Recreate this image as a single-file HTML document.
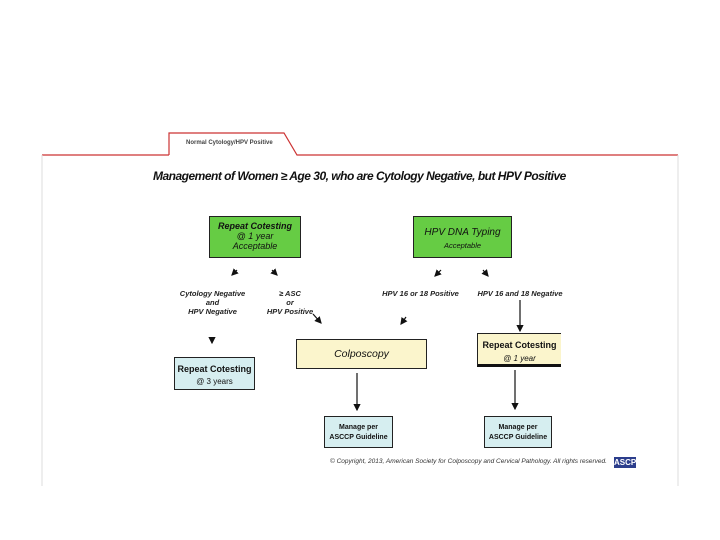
<!DOCTYPE html>
<html><head><style>
body{margin:0;width:720px;height:540px;background:#fff;position:relative;overflow:hidden;font-family:"Liberation Sans",sans-serif}
.a{position:absolute}
.box{position:absolute;box-sizing:border-box;border:1.5px solid #222;text-align:center;font-size:9px;color:#111}
.g{background:#66cc44}
.b{background:#d6eef0}
.y{background:#fbf5cc}
.t{position:absolute;font-size:7.5px;color:#222;text-align:center;font-style:italic;line-height:9px;font-weight:bold}
</style></head><body>
<svg class="a" style="left:0;top:0" width="720" height="540">
<line x1="42" y1="155" x2="169" y2="155" stroke="#c33" stroke-width="1.2"/>
<polyline points="169,155 169,133 284,133 297,155 678,155" fill="none" stroke="#c33" stroke-width="1.2"/>
<line x1="42" y1="155" x2="42" y2="486" stroke="#ddd"/>
<line x1="678" y1="155" x2="678" y2="486" stroke="#ddd"/>
<defs><marker id="m" markerWidth="6" markerHeight="6" refX="5" refY="3" orient="auto"><path d="M0,0L6,3L0,6z" fill="#111"/></marker></defs>
<g stroke="#111" stroke-width="1.2" marker-end="url(#m)">
<line x1="237" y1="270" x2="232" y2="275"/>
<line x1="272" y1="270" x2="277" y2="275"/>
<line x1="441" y1="270" x2="435" y2="276"/>
<line x1="483" y1="270" x2="488" y2="276"/>
<line x1="313" y1="314" x2="321" y2="323"/>
<line x1="406" y1="317" x2="401" y2="324"/>
<line x1="212" y1="339" x2="212" y2="343"/>
<line x1="520" y1="300" x2="520" y2="331"/>
<line x1="357" y1="373" x2="357" y2="410"/>
<line x1="515" y1="370" x2="515" y2="409"/>
</g>
</svg>
<div class="a" style="left:186px;top:140px;font-size:6px;font-weight:bold;color:#444">Normal Cytology/HPV Positive</div>
<div class="a" style="left:153px;top:169px;font-size:12px;font-weight:bold;font-style:italic;color:#111;letter-spacing:-0.5px">Management of Women ≥ Age 30, who are Cytology Negative, but HPV Positive</div>
<div class="box g" style="left:209px;top:216px;width:92px;height:42px;padding-top:4px;line-height:10px;font-style:italic"><b>Repeat Cotesting</b><br>@ 1 year<br>Acceptable</div>
<div class="box g" style="left:413px;top:216px;width:99px;height:42px;padding-top:9px;line-height:12px;font-style:italic"><span style="font-size:10px">HPV DNA Typing</span><br><span style="font-size:7.5px">Acceptable</span></div>
<div class="t" style="left:170px;top:289px;width:85px">Cytology Negative<br>and<br>HPV Negative</div>
<div class="t" style="left:265px;top:289px;width:50px">≥ ASC<br>or<br>HPV Positive</div>
<div class="t" style="left:378px;top:289px;width:85px">HPV 16 or 18 Positive</div>
<div class="t" style="left:470px;top:289px;width:100px">HPV 16 and 18 Negative</div>
<div class="box y" style="left:296px;top:339px;width:131px;height:30px;padding-top:8px;font-size:10.5px;font-style:italic">Colposcopy</div>
<div class="box y" style="left:477px;top:333px;width:84px;height:34px;padding-top:5px;line-height:13px;border-right:none;border-bottom:3px solid #111"><b>Repeat Cotesting</b><br><i style="font-size:8px">@ 1 year</i></div>
<div class="box b" style="left:174px;top:357px;width:81px;height:33px;padding-top:5px;line-height:12px"><b>Repeat Cotesting</b><br><span style="font-size:8px">@ 3 years</span></div>
<div class="box b" style="left:324px;top:416px;width:69px;height:32px;padding-top:6px;line-height:10px;font-size:7px;font-weight:bold">Manage per<br>ASCCP Guideline</div>
<div class="box b" style="left:484px;top:416px;width:68px;height:32px;padding-top:6px;line-height:10px;font-size:7px;font-weight:bold">Manage per<br>ASCCP Guideline</div>
<div class="a" style="left:330px;top:458px;font-size:6.5px;font-style:italic;color:#333">© Copyright, 2013, American Society for Colposcopy and Cervical Pathology. All rights reserved.</div>
<div class="a" style="left:614px;top:457px;width:22px;height:11px;background:#2c3e8c;color:#fff;font-size:8px;font-weight:bold;text-align:center;line-height:11px">ASCP</div>
</body></html>
